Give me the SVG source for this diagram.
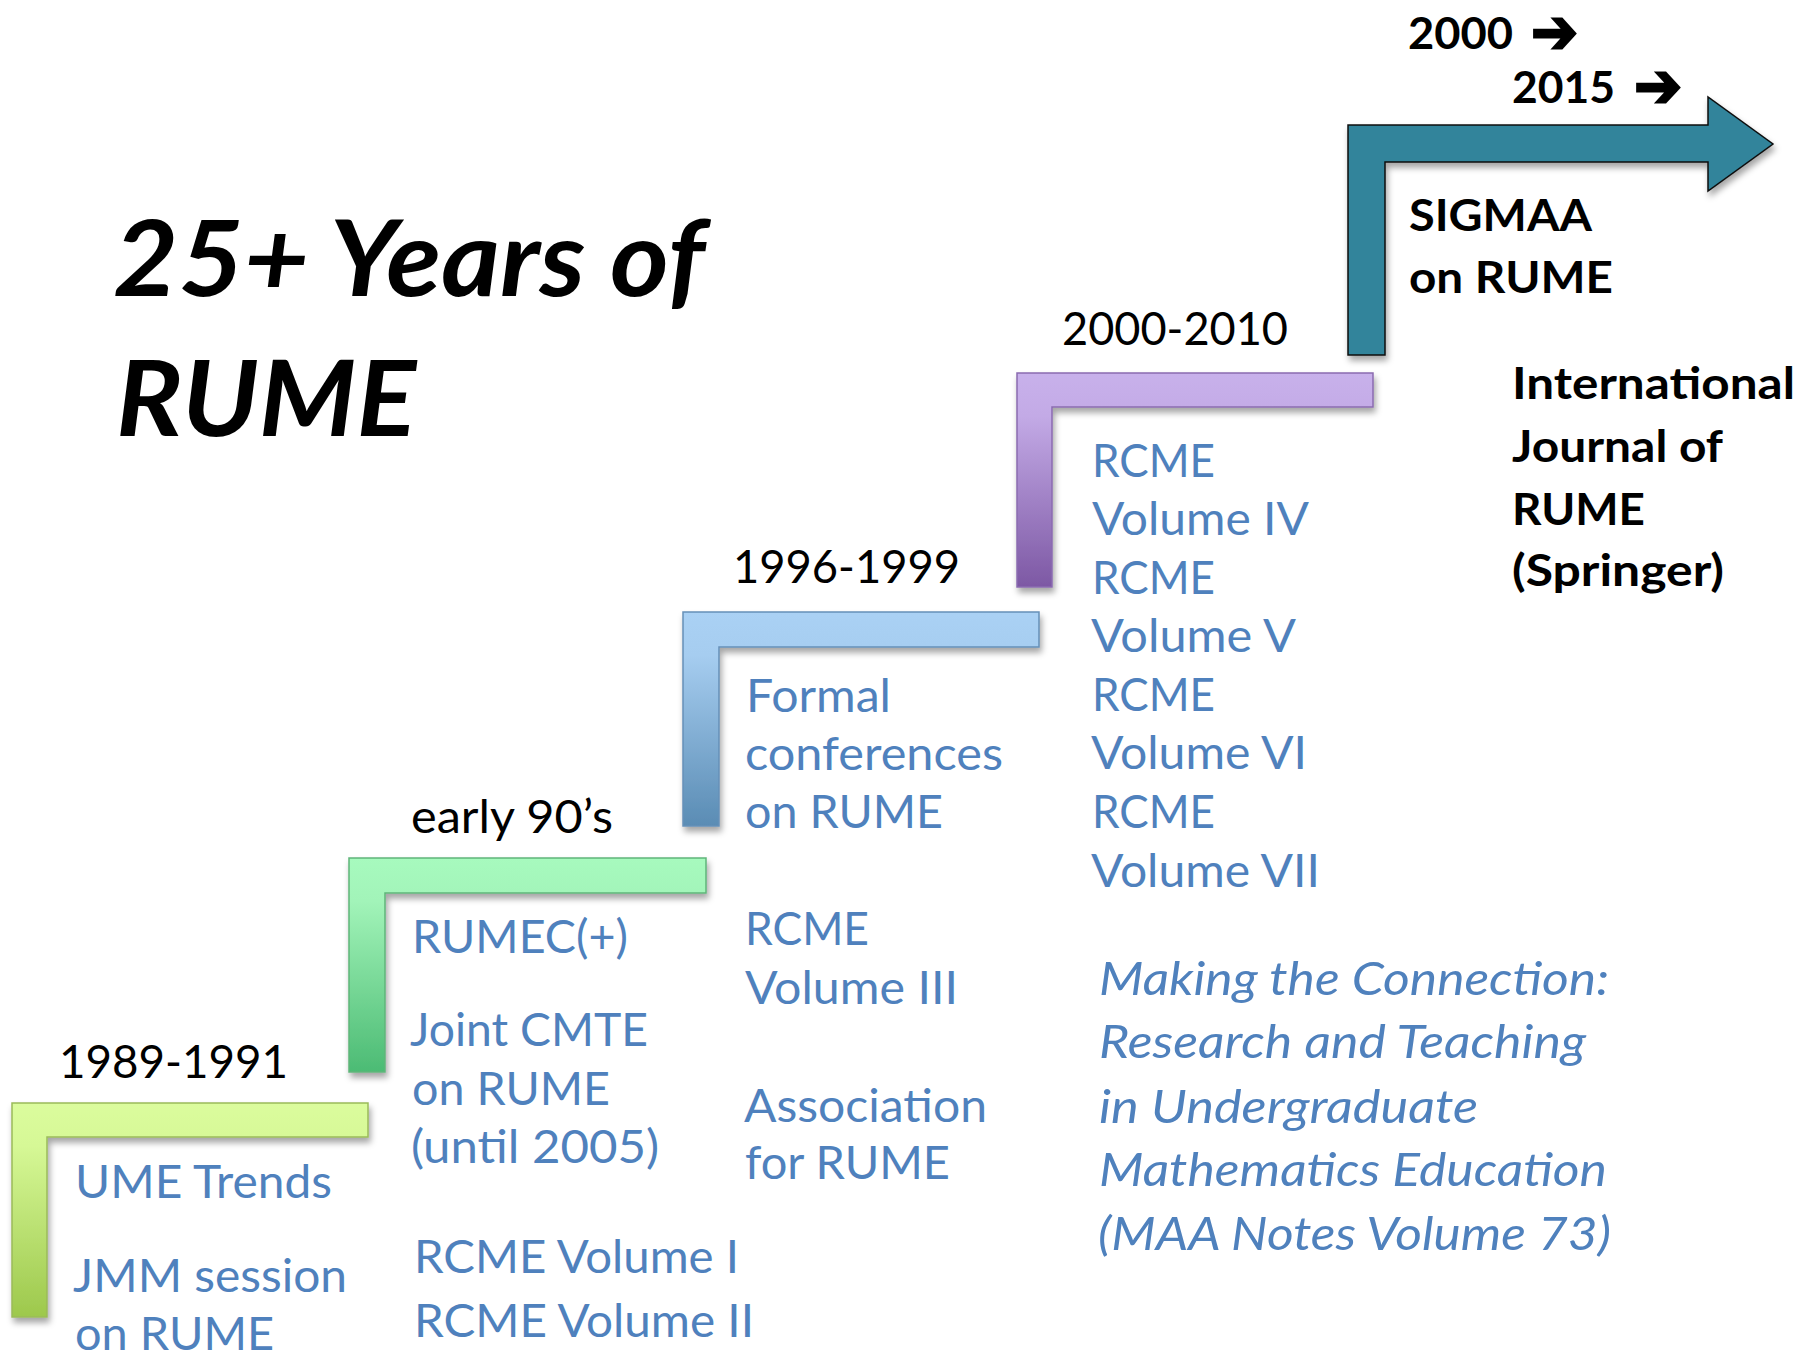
<svg xmlns="http://www.w3.org/2000/svg" width="1818" height="1353" viewBox="0 0 1818 1353">
<style>
text{font-family:Lato,"Open Sans","Liberation Sans",sans-serif}
.b{fill:#4f81bd;font-size:46px}
.d{fill:#000;font-size:46px}
.k{fill:#000;font-size:43px;font-weight:bold}
.i{fill:#4f81bd;font-size:46px;font-style:italic}
.t{fill:#000;font-size:106px;font-weight:bold;font-style:italic}
.ar{font-family:"DejaVu Sans",sans-serif;font-weight:bold;font-size:62px;stroke:#000;stroke-width:2.5;stroke-linejoin:miter}
.step{filter:url(#sh);stroke-width:1.5}
</style>
<defs>
<filter id="sh" x="-10%" y="-10%" width="130%" height="130%">
<feDropShadow dx="2" dy="5" stdDeviation="3" flood-color="#000" flood-opacity="0.35"/>
</filter>
<linearGradient id="g1" x1="0" y1="0" x2="0" y2="1">
<stop offset="0" stop-color="#dbfc9d"/><stop offset="0.2" stop-color="#d6f896"/><stop offset="1" stop-color="#9dc84c"/>
</linearGradient>
<linearGradient id="g2" x1="0" y1="0" x2="0" y2="1">
<stop offset="0" stop-color="#a7fabe"/><stop offset="0.2" stop-color="#a2f4b9"/><stop offset="1" stop-color="#4cbb74"/>
</linearGradient>
<linearGradient id="g3" x1="0" y1="0" x2="0" y2="1">
<stop offset="0" stop-color="#aad1f4"/><stop offset="0.2" stop-color="#a6cdf0"/><stop offset="1" stop-color="#5a8cb4"/>
</linearGradient>
<linearGradient id="g4" x1="0" y1="0" x2="0" y2="1">
<stop offset="0" stop-color="#c8b1eb"/><stop offset="0.2" stop-color="#c3aae6"/><stop offset="1" stop-color="#7d58a4"/>
</linearGradient>
</defs>
<rect width="1818" height="1353" fill="#fff"/>

<g id="title">
<text class="t" x="113" y="296" textLength="592" lengthAdjust="spacingAndGlyphs">25+ Years of</text>
<text class="t" x="116" y="436" textLength="300" lengthAdjust="spacingAndGlyphs">RUME</text>
</g>

<g id="step-1989">
<polygon class="step" fill="url(#g1)" stroke="#9bbb59" points="12,1103 368,1103 368,1137 47,1137 47,1317 12,1317"/>
<text class="d" x="59" y="1078" textLength="229" lengthAdjust="spacingAndGlyphs">1989-1991</text>
<text class="b" x="75" y="1198" textLength="257" lengthAdjust="spacingAndGlyphs">UME Trends</text>
<text class="b" x="73" y="1292" textLength="274" lengthAdjust="spacingAndGlyphs">JMM session</text>
<text class="b" x="75" y="1350" textLength="199" lengthAdjust="spacingAndGlyphs">on RUME</text>
</g>

<g id="step-early90s">
<polygon class="step" fill="url(#g2)" stroke="#5fb57a" points="349,858 706,858 706,893 385,893 385,1072 349,1072"/>
<text class="d" x="411" y="833" textLength="202" lengthAdjust="spacingAndGlyphs">early 90’s</text>
<text class="b" x="412" y="953" textLength="216" lengthAdjust="spacingAndGlyphs">RUMEC(+)</text>
<text class="b" x="410" y="1046" textLength="238" lengthAdjust="spacingAndGlyphs">Joint CMTE</text>
<text class="b" x="412" y="1105" textLength="198" lengthAdjust="spacingAndGlyphs">on RUME</text>
<text class="b" x="411" y="1163" textLength="248" lengthAdjust="spacingAndGlyphs">(until 2005)</text>
<text class="b" x="414" y="1273" textLength="325" lengthAdjust="spacingAndGlyphs">RCME Volume I</text>
<text class="b" x="414" y="1337" textLength="340" lengthAdjust="spacingAndGlyphs">RCME Volume II</text>
</g>

<g id="step-1996">
<polygon class="step" fill="url(#g3)" stroke="#6690b8" points="683,612 1039,612 1039,647 719,647 719,826 683,826"/>
<text class="d" x="733" y="583" textLength="227" lengthAdjust="spacingAndGlyphs">1996-1999</text>
<text class="b" x="746" y="712" textLength="145" lengthAdjust="spacingAndGlyphs">Formal</text>
<text class="b" x="745" y="770" textLength="258" lengthAdjust="spacingAndGlyphs">conferences</text>
<text class="b" x="745" y="828" textLength="198" lengthAdjust="spacingAndGlyphs">on RUME</text>
<text class="b" x="745" y="945" textLength="124" lengthAdjust="spacingAndGlyphs">RCME</text>
<text class="b" x="745" y="1004" textLength="213" lengthAdjust="spacingAndGlyphs">Volume III</text>
<text class="b" x="744" y="1122" textLength="243" lengthAdjust="spacingAndGlyphs">Association</text>
<text class="b" x="745" y="1179" textLength="205" lengthAdjust="spacingAndGlyphs">for RUME</text>
</g>

<g id="step-2000">
<polygon class="step" fill="url(#g4)" stroke="#8a6bb0" points="1017,373 1373,373 1373,407 1052,407 1052,587 1017,587"/>
<text class="d" x="1062" y="345" textLength="226" lengthAdjust="spacingAndGlyphs">2000-2010</text>
<text class="b" x="1092" y="477" textLength="123" lengthAdjust="spacingAndGlyphs">RCME</text>
<text class="b" x="1092" y="535" textLength="217" lengthAdjust="spacingAndGlyphs">Volume IV</text>
<text class="b" x="1092" y="594" textLength="123" lengthAdjust="spacingAndGlyphs">RCME</text>
<text class="b" x="1091" y="652" textLength="205" lengthAdjust="spacingAndGlyphs">Volume V</text>
<text class="b" x="1092" y="711" textLength="123" lengthAdjust="spacingAndGlyphs">RCME</text>
<text class="b" x="1091" y="769" textLength="216" lengthAdjust="spacingAndGlyphs">Volume VI</text>
<text class="b" x="1092" y="828" textLength="123" lengthAdjust="spacingAndGlyphs">RCME</text>
<text class="b" x="1091" y="887" textLength="229" lengthAdjust="spacingAndGlyphs">Volume VII</text>
<text class="i" x="1099" y="995" textLength="510" lengthAdjust="spacingAndGlyphs">Making the Connection:</text>
<text class="i" x="1099" y="1058" textLength="487" lengthAdjust="spacingAndGlyphs">Research and Teaching</text>
<text class="i" x="1099" y="1123" textLength="379" lengthAdjust="spacingAndGlyphs">in Undergraduate</text>
<text class="i" x="1099" y="1186" textLength="508" lengthAdjust="spacingAndGlyphs">Mathematics Education</text>
<text class="i" x="1098" y="1250" textLength="513" lengthAdjust="spacingAndGlyphs">(MAA Notes Volume 73)</text>
</g>

<g id="step-2015">
<polygon class="step" fill="#31849b" stroke="#0d0d0d" stroke-width="2" points="1348,125 1708,125 1708,97 1773,144 1708,191 1708,162 1385,162 1385,355 1348,355"/>
<text class="k" x="1408" y="49"><tspan textLength="105" lengthAdjust="spacingAndGlyphs">2000</tspan><tspan class="ar" x="1531" y="53" textLength="47" lengthAdjust="spacingAndGlyphs">➔</tspan></text>
<text class="k" x="1512" y="103"><tspan textLength="103" lengthAdjust="spacingAndGlyphs">2015</tspan><tspan class="ar" x="1634" y="107" textLength="48" lengthAdjust="spacingAndGlyphs">➔</tspan></text>
<text class="k" x="1409" y="231" textLength="183" lengthAdjust="spacingAndGlyphs">SIGMAA</text>
<text class="k" x="1409" y="293" textLength="204" lengthAdjust="spacingAndGlyphs">on RUME</text>
<text class="k" x="1512" y="399" textLength="283" lengthAdjust="spacingAndGlyphs">International</text>
<text class="k" x="1512" y="462" textLength="211" lengthAdjust="spacingAndGlyphs">Journal of</text>
<text class="k" x="1512" y="525" textLength="133" lengthAdjust="spacingAndGlyphs">RUME</text>
<text class="k" x="1512" y="586" textLength="212" lengthAdjust="spacingAndGlyphs">(Springer)</text>
</g>
</svg>
